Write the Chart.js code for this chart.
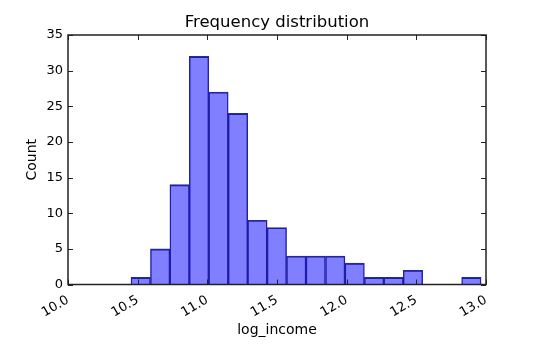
<!DOCTYPE html>
<html><head><meta charset="utf-8">
<script src="https://cdn.jsdelivr.net/npm/chart.js@4"></script>
<style>html,body{margin:0;padding:0;background:#fff}#wrap{width:540px;height:355px}</style>
</head><body><div id="wrap"><canvas id="c" width="540" height="355"></canvas></div>
<script>
// Histogram bin edges (log_income) and counts
const binEdges = [10.452, 10.592, 10.731, 10.871, 11.010, 11.150, 11.290, 11.429, 11.569, 11.708,
                  11.848, 11.988, 12.127, 12.267, 12.406, 12.546, 12.686, 12.825, 12.965];
const counts = [1, 5, 14, 32, 27, 24, 9, 8, 4, 4, 4, 3, 1, 1, 2, 0, 0, 1];
const xTickValues = [10.0, 10.5, 11.0, 11.5, 12.0, 12.5, 13.0];
const yTickValues = [0, 5, 10, 15, 20, 25, 30, 35];
const titleText = 'Frequency distribution';
const xLabel = 'log_income';
const yLabel = 'Count';

const barData = counts.map((c, i) => ({ x: (binEdges[i] + binEdges[i + 1]) / 2, y: c }));

const frameTicks = {
  id: 'frameTicks',
  afterDatasetsDraw(chart) {
    const { ctx, chartArea: a, scales: { x, y } } = chart;
    ctx.save();
    ctx.strokeStyle = '#222';
    ctx.lineWidth = 1;
    ctx.beginPath();
    x.ticks.forEach(t => {
      const px = Math.round(x.getPixelForValue(t.value)) + 0.5;
      ctx.moveTo(px, a.bottom); ctx.lineTo(px, a.bottom - 5);
      ctx.moveTo(px, a.top); ctx.lineTo(px, a.top + 5);
    });
    y.ticks.forEach(t => {
      const py = Math.round(y.getPixelForValue(t.value)) + 0.5;
      ctx.moveTo(a.left, py); ctx.lineTo(a.left + 5, py);
      ctx.moveTo(a.right, py); ctx.lineTo(a.right - 5, py);
    });
    ctx.stroke();
    ctx.lineWidth = 1.5;
    ctx.strokeRect(a.left, a.top, a.right - a.left, a.bottom - a.top);
    ctx.restore();
  }
};

const FONT = 'DejaVu Sans';
new Chart(document.getElementById('c'), {
  type: 'bar',
  data: {
    datasets: [{
      data: barData,
      backgroundColor: 'rgba(0,0,255,0.5)',
      borderColor: 'rgba(20,20,130,0.9)',
      borderWidth: { top: 1.2, left: 0.8, right: 0.8, bottom: 0 },
      borderSkipped: false,
      barPercentage: 1.0,
      categoryPercentage: 1.0,
      grouped: false
    }]
  },
  options: {
    responsive: false,
    animation: false,
    devicePixelRatio: 1,
    datasets: { bar: { barPercentage: 1.0, categoryPercentage: 1.0 } },
    layout: { padding: { left: 14, right: 0, top: 0, bottom: 0 } },
    plugins: {
      legend: { display: false },
      tooltip: { enabled: false },
      title: {
        display: true, text: titleText, color: '#000',
        font: { family: FONT, size: 16.5, weight: 'normal' },
        padding: { top: 13.3, bottom: 1.9 }
      }
    },
    scales: {
      x: {
        type: 'linear', offset: false, min: 10, max: 13,
        afterBuildTicks: s => { s.ticks = xTickValues.map(v => ({ value: v })); },
        afterFit: s => { s.height = 70.5; },
        grid: { display: false, drawTicks: false },
        border: { display: false },
        ticks: {
          color: '#000', font: { family: FONT, size: 13 },
          minRotation: 30, maxRotation: 30, padding: 8,
          callback: v => Number(v).toFixed(1)
        },
        title: {
          display: true, text: xLabel, color: '#000',
          font: { family: FONT, size: 14 },
          padding: { top: 0, bottom: 16 }
        }
      },
      y: {
        min: 0, max: 35,
        afterBuildTicks: s => { s.ticks = yTickValues.map(v => ({ value: v })); },
        afterFit: s => { s.width = 54; },
        grid: { display: false, drawTicks: false },
        border: { display: false },
        ticks: { color: '#000', font: { family: FONT, size: 13 }, padding: 5 },
        title: {
          display: true, text: yLabel, color: '#000',
          font: { family: FONT, size: 14 },
          padding: { top: 10.4, bottom: 0 }
        }
      },
      yRight: {
        position: 'right', min: 0, max: 35,
        afterFit: s => { s.width = 54; },
        grid: { display: false, drawTicks: false },
        border: { display: false },
        ticks: { display: false }
      }
    }
  },
  plugins: [frameTicks]
});
</script></body></html>
